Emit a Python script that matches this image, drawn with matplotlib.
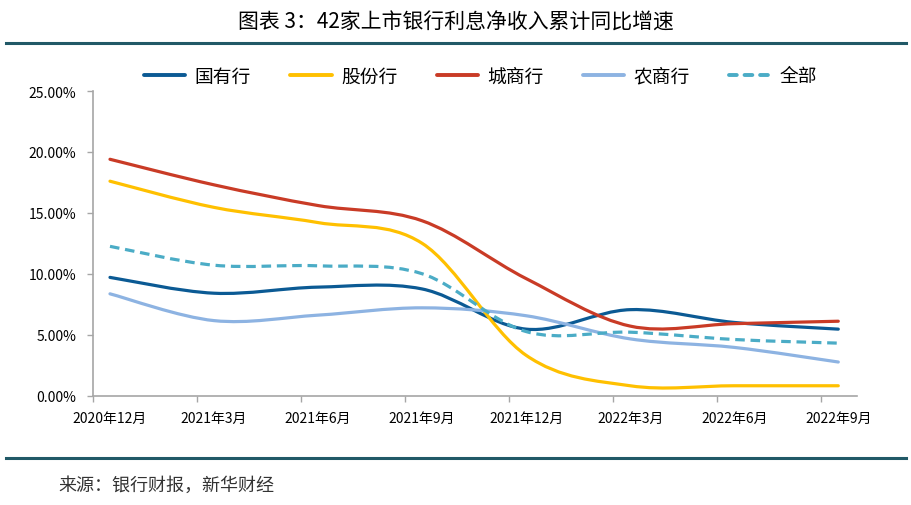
import matplotlib
matplotlib.use("Agg")
import matplotlib.pyplot as plt
from matplotlib.path import Path
from matplotlib.patches import PathPatch
from matplotlib.lines import Line2D
import numpy as np

plt.rcParams['font.family'] = ['Noto Sans CJK SC', 'DejaVu Sans']

periods = ["2020年12月", "2021年3月", "2021年6月", "2021年9月",
           "2021年12月", "2022年3月", "2022年6月", "2022年9月"]
names = ["国有行", "股份行", "城商行", "农商行", "全部"]
guoyou = [9.7, 8.4, 8.9, 8.75, 5.45, 7.05, 6.0, 5.45]
gufen = [17.6, 15.45, 14.2, 12.5, 3.3, 0.8, 0.8, 0.8]
chengshang = [19.4, 17.3, 15.6, 14.35, 9.6, 5.7, 5.9, 6.1]
nongshang = [8.35, 6.15, 6.6, 7.2, 6.55, 4.65, 3.95, 2.75]
quanbu = [12.25, 10.7, 10.65, 10.0, 5.25, 5.2, 4.6, 4.3]
series = [guoyou, gufen, chengshang, nongshang, quanbu]
colors = ["#0B5A94", "#FFC000", "#C93B26", "#8DB3E2", "#4BACC6"]
styles = ["-", "-", "-", "-", (0, (3.0, 1.8))]

teal = "#215967"


def smooth_path(xs, ys):
    # Excel-style smoothed line: Catmull-Rom segments as cubic Beziers
    pts = np.column_stack([xs, ys])
    n = len(pts)
    verts = [pts[0]]
    codes = [Path.MOVETO]
    for i in range(n - 1):
        p0 = pts[max(i - 1, 0)]
        p1 = pts[i]
        p2 = pts[i + 1]
        p3 = pts[min(i + 2, n - 1)]
        c1 = p1 + (p2 - p0) / 6.0
        c2 = p2 - (p3 - p1) / 6.0
        verts += [c1, c2, p2]
        codes += [Path.CURVE4] * 3
    return Path(verts, codes)


fig = plt.figure(figsize=(9.12, 5.06), dpi=100)
ax = fig.add_axes([0.102, 0.2164, 0.8377, 0.6016])

x = np.arange(len(periods))
for vals, c, ls in zip(series, colors, styles):
    cap = "butt" if ls != "-" else "round"
    patch = PathPatch(smooth_path(x, vals), facecolor="none", edgecolor=c,
                      linewidth=2.3, linestyle=ls, capstyle=cap)
    ax.add_patch(patch)

ax.set_xlim(-0.163, 7.18)
ax.set_ylim(0, 25)
ax.set_yticks(np.arange(0, 26, 5))
ax.set_yticklabels(["%.2f%%" % v for v in np.arange(0, 26, 5)])
ax.set_xticks(x - 0.163)
ax.set_xticklabels([])
for xi, lab in zip(x, periods):
    ax.text(xi, -0.052, lab, transform=ax.get_xaxis_transform(),
            ha="center", va="top", fontsize=10)

for s in ["top", "right"]:
    ax.spines[s].set_visible(False)
for s in ["left", "bottom"]:
    ax.spines[s].set_color("#A6A6A6")
    ax.spines[s].set_linewidth(1.2)
ax.tick_params(axis="y", length=4, width=1, color="#A6A6A6", pad=8, labelsize=10)
ax.tick_params(axis="x", length=4, width=1, color="#A6A6A6")

handles = [Line2D([], [], color=c, lw=2.8, linestyle=ls,
                  solid_capstyle="round", dash_capstyle="round")
           for c, ls in zip(colors, ["-", "-", "-", "-", (0, (2.0, 2.0))])]
fig.legend(handles, names, loc="center", bbox_to_anchor=(0.527, 0.848), ncol=5,
           frameon=False, fontsize=13.5, handlelength=2.2, handletextpad=0.5,
           columnspacing=2.1)

fig.text(0.5, 0.955, "图表 3：42家上市银行利息净收入累计同比增速",
         ha="center", va="center", fontsize=15)
fig.add_artist(Line2D([0.007, 0.993], [0.913, 0.913], color=teal, lw=2.2))
fig.add_artist(Line2D([0.007, 0.993], [0.093, 0.093], color=teal, lw=2.2))
fig.text(0.064, 0.04, "来源：银行财报，新华财经", ha="left", va="center",
         fontsize=13, color="#333333")

plt.savefig("out.png", dpi=100)
